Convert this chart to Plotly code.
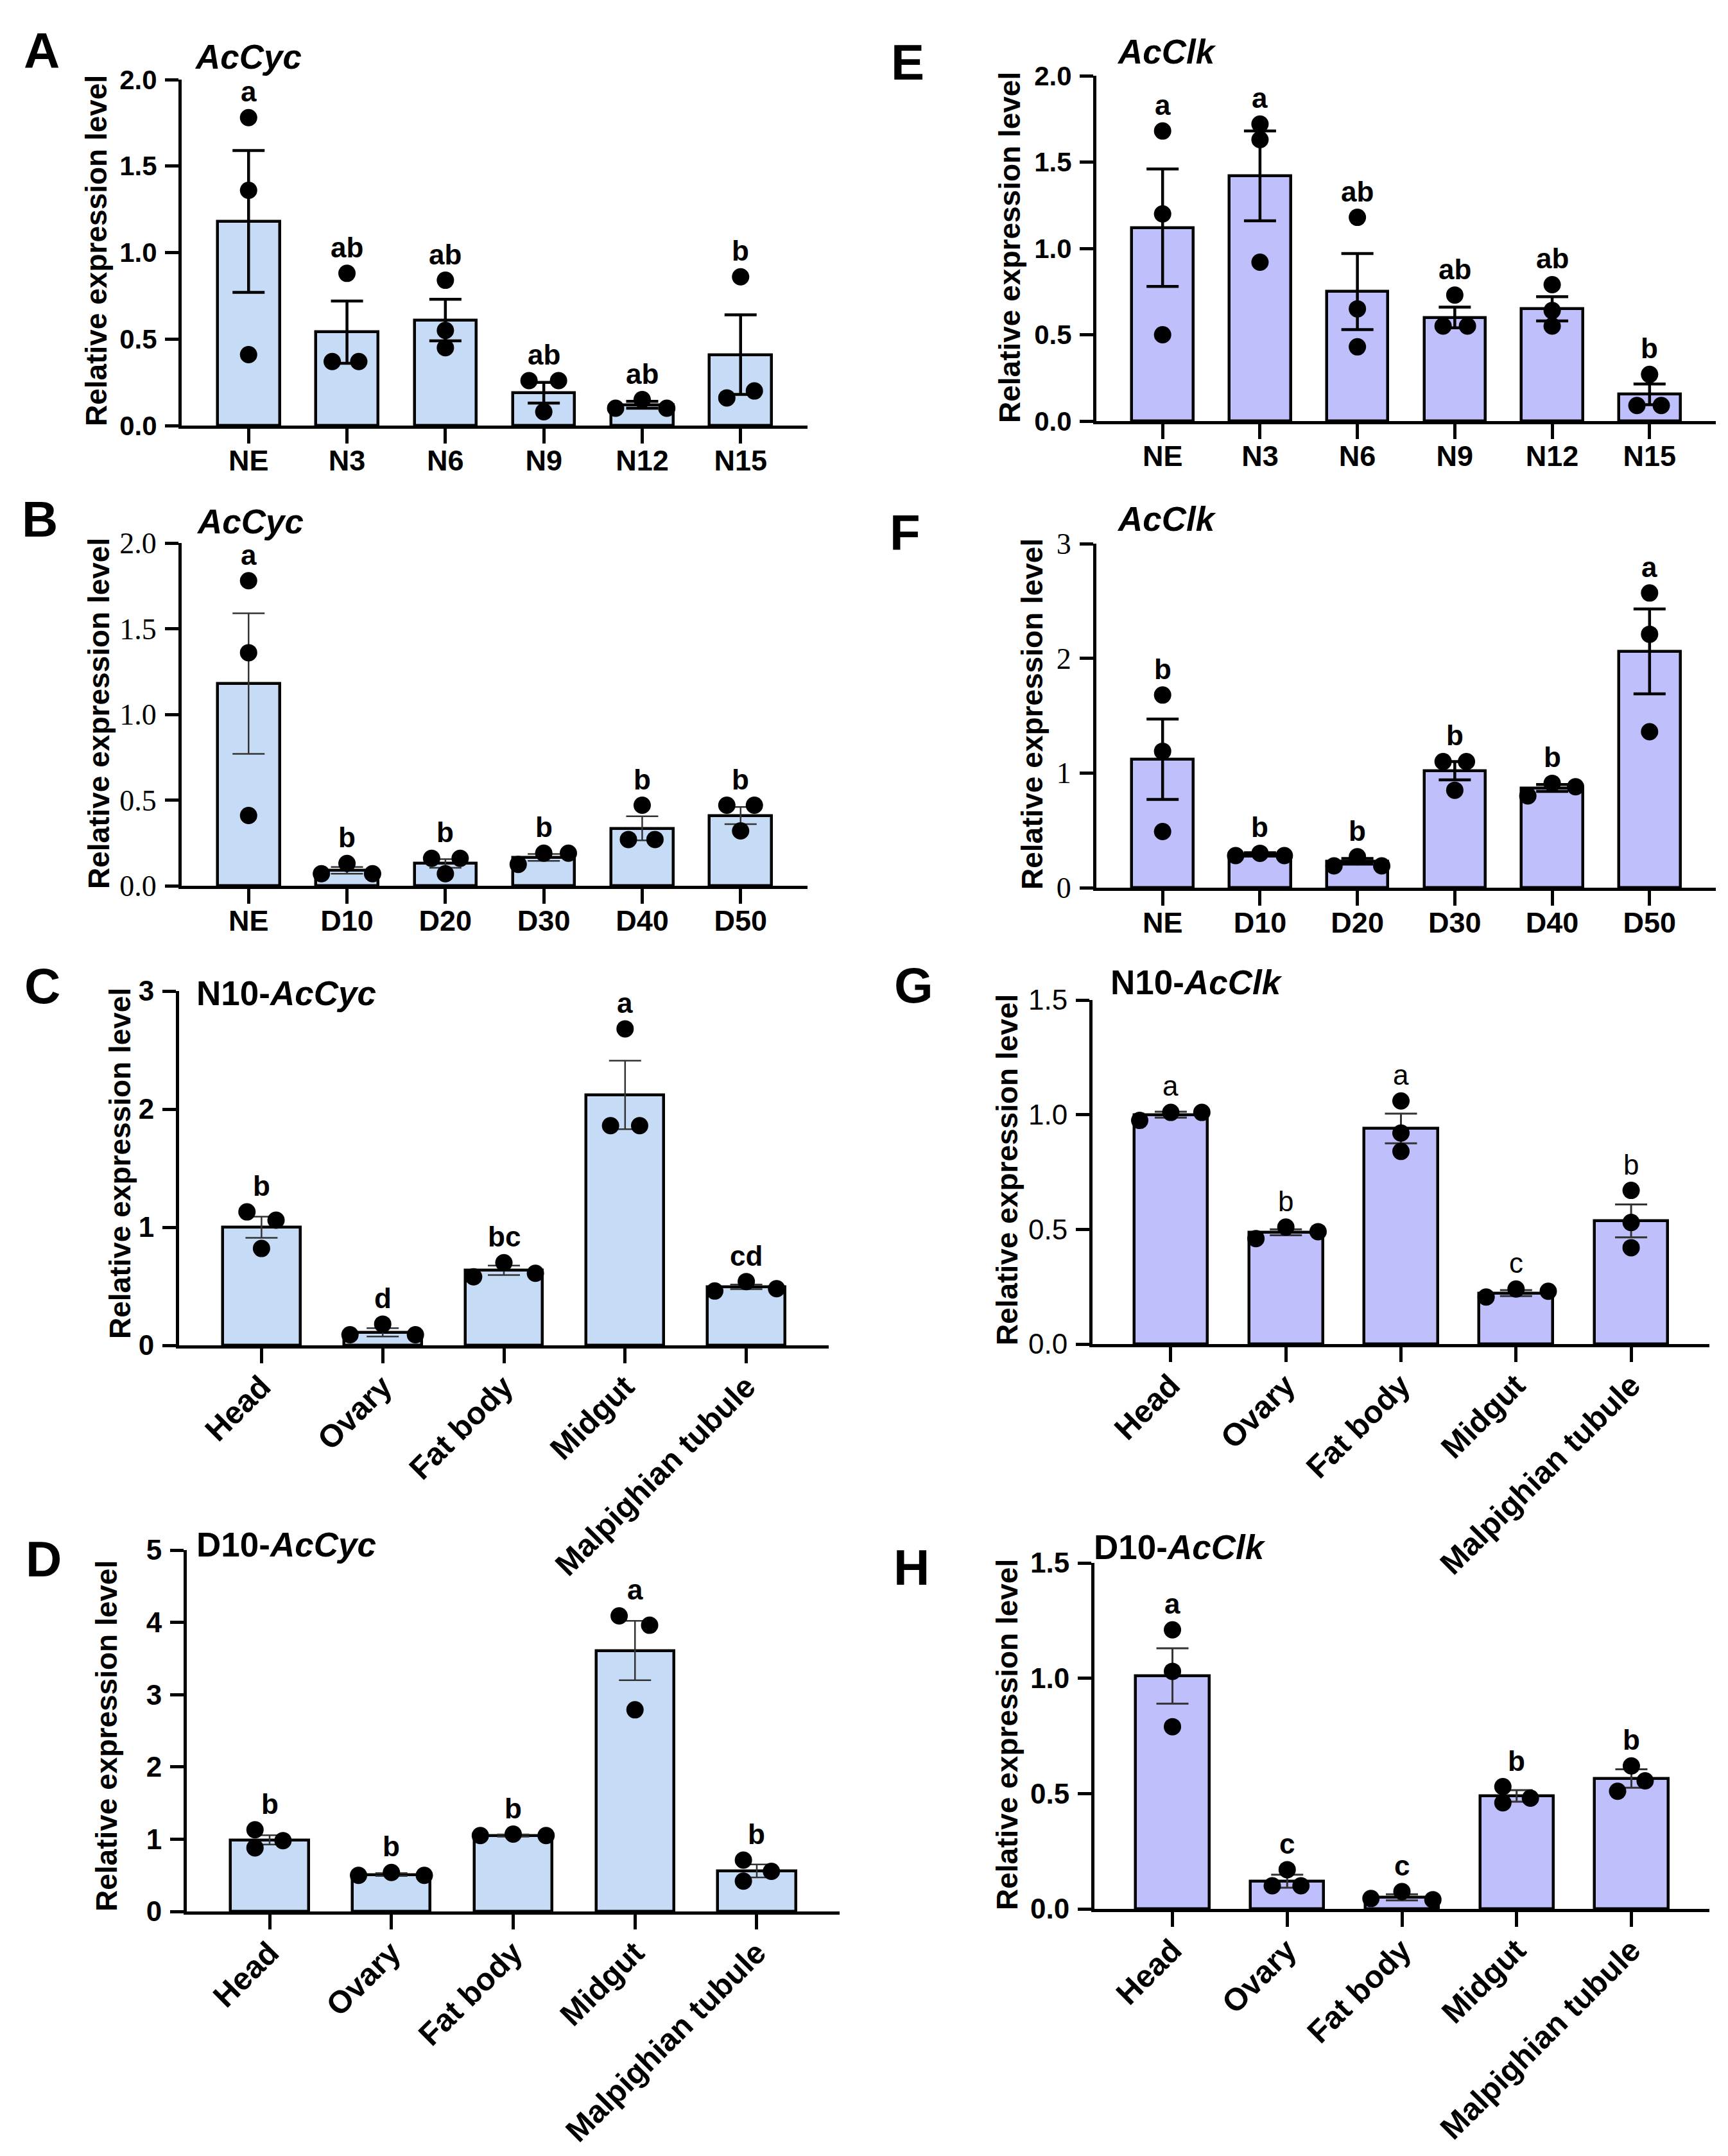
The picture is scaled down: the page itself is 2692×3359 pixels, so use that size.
import plotly.graph_objects as go

W, H = 2692, 3359

nymph = ["NE", "N3", "N6", "N9", "N12", "N15"]
adult = ["NE", "D10", "D20", "D30", "D40", "D50"]
tissue = ["Head", "Ovary", "Fat body", "Midgut", "Malpighian tubule"]

# A - AcCyc, nymph stages
a_mean = [1.18, 0.54, 0.61, 0.19, 0.12, 0.41]
a_sem = [0.41, 0.18, 0.12, 0.06, 0.02, 0.23]
a_pts = [[1.78, 1.36, 0.41], [0.88, 0.37, 0.37], [0.84, 0.55, 0.45],
         [0.26, 0.26, 0.08], [0.15, 0.10, 0.10], [0.86, 0.20, 0.16]]
a_sig = ["a", "ab", "ab", "ab", "ab", "b"]

# B - AcCyc, adult age
b_mean = [1.18, 0.09, 0.13, 0.165, 0.335, 0.41]
b_sem = [0.41, 0.02, 0.025, 0.02, 0.07, 0.05]
b_pts = [[1.78, 1.36, 0.41], [0.13, 0.07, 0.07], [0.16, 0.16, 0.07],
         [0.19, 0.19, 0.125], [0.47, 0.27, 0.27], [0.47, 0.47, 0.32]]
b_sig = ["a", "b", "b", "b", "b", "b"]

# C - N10 AcCyc, tissues
c_mean = [1.0, 0.11, 0.635, 2.12, 0.495]
c_sem = [0.09, 0.035, 0.04, 0.29, 0.02]
c_pts = [[1.13, 1.06, 0.82], [0.18, 0.09, 0.09], [0.70, 0.61, 0.58],
         [2.68, 1.86, 1.86], [0.54, 0.48, 0.46]]
c_sig = ["b", "d", "bc", "a", "cd"]

# D - D10 AcCyc, tissues
d_mean = [0.99, 0.51, 1.05, 3.61, 0.56]
d_sem = [0.065, 0.02, 0.015, 0.41, 0.09]
d_pts = [[1.13, 0.98, 0.88], [0.54, 0.50, 0.50], [1.05, 1.07, 1.05],
         [4.09, 3.96, 2.79], [0.71, 0.555, 0.42]]
d_sig = ["b", "b", "b", "a", "b"]

# E - AcClk, nymph stages
e_mean = [1.12, 1.42, 0.75, 0.60, 0.65, 0.155]
e_sem = [0.34, 0.26, 0.22, 0.06, 0.07, 0.06]
e_pts = [[1.68, 1.20, 0.50], [1.72, 1.63, 0.92], [1.18, 0.65, 0.43],
         [0.73, 0.55, 0.55], [0.79, 0.64, 0.55], [0.27, 0.09, 0.09]]
e_sig = ["a", "a", "ab", "ab", "ab", "b"]

# F - AcClk, adult age
f_mean = [1.12, 0.29, 0.23, 1.02, 0.87, 2.06]
f_sem = [0.35, 0.015, 0.025, 0.08, 0.03, 0.37]
f_pts = [[1.68, 1.19, 0.49], [0.30, 0.28, 0.28], [0.27, 0.19, 0.19],
         [1.10, 1.10, 0.85], [0.91, 0.88, 0.80], [2.57, 2.21, 1.36]]
f_sig = ["b", "b", "b", "b", "b", "a"]

# G - N10 AcClk, tissues
g_mean = [1.0, 0.487, 0.94, 0.222, 0.537]
g_sem = [0.013, 0.013, 0.065, 0.013, 0.072]
g_pts = [[1.01, 1.01, 0.975], [0.51, 0.49, 0.46], [1.06, 0.92, 0.84],
         [0.24, 0.23, 0.205], [0.67, 0.53, 0.42]]
g_sig = ["a", "b", "a", "c", "b"]

# H - D10 AcClk, tissues
h_mean = [1.01, 0.12, 0.05, 0.49, 0.565]
h_sem = [0.12, 0.028, 0.013, 0.025, 0.04]
h_pts = [[1.21, 1.03, 0.79], [0.17, 0.10, 0.10], [0.075, 0.045, 0.04],
         [0.53, 0.48, 0.46], [0.62, 0.555, 0.51]]
h_sig = ["a", "c", "c", "b", "b"]

BLUE = "#C6DCF6"
PURPLE = "#BFBFFB"
SANS = "Liberation Sans, Arial"
SERIF = "Liberation Serif, Times New Roman"

# horizontal spread of the replicate dots (category units)
a_dx = [[0, 0, 0], [0, -.15, .12], [0, 0, 0], [-.15, .15, 0], [0, -.27, .25], [0, .14, -.14]]
b_dx = [[0, 0, 0], [0, -.26, .26], [-.14, .15, 0], [0, .25, -.26], [0, -.14, .13], [-.14, .14, 0]]
c_dx = [[-.12, .12, 0], [0, -.27, .27], [0, .26, -.25], [0, -.12, .12], [0, .25, -.26]]
d_dx = [[-.12, .11, -.12], [0, -.27, .27], [-.27, 0, .27], [-.13, .12, 0], [-.11, .12, -.11]]
e_dx = [[0, 0, 0], [0, 0, 0], [0, 0, 0], [0, -.12, .13], [0, 0, 0], [0, -.13, .12]]
f_dx = [[0, 0, 0], [0, -.25, .25], [0, -.24, .25], [-.12, .12, 0], [0, .24, -.25], [0, 0, 0]]
g_dx = [[0, .27, -.27], [0, .28, -.26], [0, 0, 0], [0, .28, -.26], [0, 0, 0]]
h_dx = [[0, 0, 0], [0, -.13, .12], [0, -.27, .27], [-.12, .12, -.12], [0, .12, -.12]]

panels = [
    dict(tag="A", title="<i>AcCyc</i>", cats=nymph, mean=a_mean, sem=a_sem, pts=a_pts, sig=a_sig, dx=a_dx,
         color=BLUE, box=(275, 1250, 116, 655), ymax=2.0, dtick=0.5, fmt="{:.1f}", tickfont=(SANS, 42, "bold"),
         sigw="bold", ebw=4.5, ebc="black", letter=(57, 71), tpos=(293, 80), ypos=(142, 383), angle=0),
    dict(tag="B", title="<i>AcCyc</i>", cats=adult, mean=b_mean, sem=b_sem, pts=b_pts, sig=b_sig, dx=b_dx,
         color=BLUE, box=(275, 1250, 838, 1372), ymax=2.0, dtick=0.5, fmt="{:.1f}", tickfont=(SERIF, 46, "normal"),
         sigw="bold", ebw=2.5, ebc="#333333", letter=(54, 801), tpos=(296, 804), ypos=(146, 1104), angle=0),
    dict(tag="C", title="N10-<i>AcCyc</i>", cats=tissue, mean=c_mean, sem=c_sem, pts=c_pts, sig=c_sig, dx=c_dx,
         color=BLUE, box=(271, 1283, 1536, 2088), ymax=3, dtick=1, fmt="{:.0f}", tickfont=(SANS, 44, "bold"),
         sigw="bold", ebw=2.5, ebc="#333333", letter=(58, 1528), tpos=(296, 1539), ypos=(179, 1805), angle=-45),
    dict(tag="D", title="D10-<i>AcCyc</i>", cats=tissue, mean=d_mean, sem=d_sem, pts=d_pts, sig=d_sig, dx=d_dx,
         color=BLUE, box=(283, 1300, 2407, 2970), ymax=5, dtick=1, fmt="{:.0f}", tickfont=(SANS, 44, "bold"),
         sigw="bold", ebw=2.5, ebc="#333333", letter=(60, 2421), tpos=(296, 2398), ypos=(158, 2697), angle=-45),
    dict(tag="E", title="<i>AcClk</i>", cats=nymph, mean=e_mean, sem=e_sem, pts=e_pts, sig=e_sig, dx=e_dx,
         color=PURPLE, box=(1700, 2665, 110, 648), ymax=2.0, dtick=0.5, fmt="{:.1f}", tickfont=(SANS, 42, "bold"),
         sigw="bold", ebw=4.5, ebc="black", letter=(1406, 89), tpos=(1730, 73), ypos=(1565, 378), angle=0),
    dict(tag="F", title="<i>AcClk</i>", cats=adult, mean=f_mean, sem=f_sem, pts=f_pts, sig=f_sig, dx=f_dx,
         color=PURPLE, box=(1700, 2665, 839, 1375), ymax=3, dtick=1, fmt="{:.0f}", tickfont=(SERIF, 46, "normal"),
         sigw="bold", ebw=4.5, ebc="black", letter=(1402, 822), tpos=(1730, 801), ypos=(1600, 1105), angle=0),
    dict(tag="G", title="N10-<i>AcClk</i>", cats=tissue, mean=g_mean, sem=g_sem, pts=g_pts, sig=g_sig, dx=g_dx,
         color=PURPLE, box=(1694, 2655, 1550, 2086), ymax=1.5, dtick=0.5, fmt="{:.1f}", tickfont=(SANS, 44, "normal"),
         sigw="normal", ebw=3, ebc="#333333", letter=(1415, 1527), tpos=(1720, 1522), ypos=(1561, 1815), angle=-45),
    dict(tag="H", title="D10-<i>AcClk</i>", cats=tissue, mean=h_mean, sem=h_sem, pts=h_pts, sig=h_sig, dx=h_dx,
         color=PURPLE, box=(1697, 2655, 2427, 2966), ymax=1.5, dtick=0.5, fmt="{:.1f}", tickfont=(SANS, 44, "bold"),
         sigw="bold", ebw=3, ebc="#333333", letter=(1412, 2434), tpos=(1694, 2402), ypos=(1561, 2695), angle=-45),
]


def px(x):
    return x / W


def py(y):
    return 1 - y / H


fig = go.Figure()
annotations = []
layout_axes = {}

for k, p in enumerate(panels):
    n = len(p["cats"])
    sfx = "" if k == 0 else str(k + 1)
    xa, ya = "x" + sfx, "y" + sfx
    x0, x1, y0, y1 = p["box"]

    fig.add_trace(go.Bar(
        x=list(range(n)), y=p["mean"], width=0.63 if n == 6 else 0.64,
        marker=dict(color=p["color"], line=dict(color="black", width=4.5)),
        error_y=dict(type="data", array=p["sem"], symmetric=True, thickness=p["ebw"],
                     width=25, color=p["ebc"]),
        xaxis=xa, yaxis=ya, showlegend=False, cliponaxis=False,
    ))

    dot_x, dot_y = [], []
    for i, (vals, offs) in enumerate(zip(p["pts"], p["dx"])):
        for v, o in zip(vals, offs):
            dot_x.append(i + o)
            dot_y.append(v)
    fig.add_trace(go.Scatter(
        x=dot_x, y=dot_y, mode="markers", marker=dict(color="black", size=27),
        xaxis=xa, yaxis=ya, showlegend=False, cliponaxis=False,
    ))

    fam, fsize, fweight = p["tickfont"]
    yticks = [j * p["dtick"] for j in range(int(round(p["ymax"] / p["dtick"])) + 1)]
    rng_x = [-0.68, n - 1 + 0.68]
    if p["angle"]:
        xfont = dict(family=SANS, size=49, color="black", weight="bold")
    else:
        xfont = dict(family=SANS, size=45, color="black", weight="bold")

    layout_axes["xaxis" + sfx] = dict(
        domain=[px(x0), px(x1)], range=rng_x, anchor=ya,
        tickvals=list(range(n)), ticktext=p["cats"], tickangle=p["angle"],
        showline=True, linewidth=5, linecolor="black", ticks="outside", ticklen=23,
        tickwidth=5, tickcolor="black", tickfont=xfont, showgrid=False, zeroline=False,
    )
    layout_axes["yaxis" + sfx] = dict(
        domain=[py(y1), py(y0)], range=[0, p["ymax"]], anchor=xa,
        tickvals=yticks, ticktext=[p["fmt"].format(t) for t in yticks],
        showline=True, linewidth=5, linecolor="black", ticks="outside", ticklen=21,
        tickwidth=5, tickcolor="black", ticklabelstandoff=4,
        tickfont=dict(family=fam, size=fsize, color="black", weight=fweight),
        showgrid=False, zeroline=False,
    )

    # significance letters above highest of dots / error bar
    for i in range(n):
        top = max(max(p["pts"][i]), p["mean"][i] + p["sem"][i])
        annotations.append(dict(
            x=i, y=top, xref=xa, yref=ya, text=p["sig"][i], showarrow=False,
            yanchor="bottom", yshift=14,
            font=dict(family=SANS, size=44, color="black", weight=p["sigw"]),
        ))

    lx, ly = p["letter"]
    annotations.append(dict(x=px(lx), y=py(ly), xref="paper", yref="paper", text=p["tag"],
                            showarrow=False, xanchor="center", yanchor="middle",
                            font=dict(family=SANS, size=78, color="black", weight="bold")))
    tx, ty = p["tpos"]
    annotations.append(dict(x=px(tx), y=py(ty), xref="paper", yref="paper", text=p["title"],
                            showarrow=False, xanchor="left", yanchor="middle",
                            font=dict(family=SANS, size=53, color="black", weight="bold")))
    yx, yy = p["ypos"]
    annotations.append(dict(x=px(yx), y=py(yy), xref="paper", yref="paper",
                            text="Relative expression level", textangle=-90,
                            showarrow=False, xanchor="center", yanchor="middle",
                            font=dict(family=SANS, size=46, color="black", weight="bold")))

fig.update_layout(
    width=W, height=H, margin=dict(l=0, r=0, t=0, b=0, autoexpand=False),
    paper_bgcolor="white", plot_bgcolor="white",
    bargap=0, annotations=annotations, **layout_axes,
)

# pull the category labels a little closer to the tick marks
for k in range(len(panels)):
    ax = fig.layout["xaxis" + ("" if k == 0 else str(k + 1))]
    try:
        ax.ticklabelstandoff = -12
    except ValueError:
        pass

fig.write_html("out.html")
